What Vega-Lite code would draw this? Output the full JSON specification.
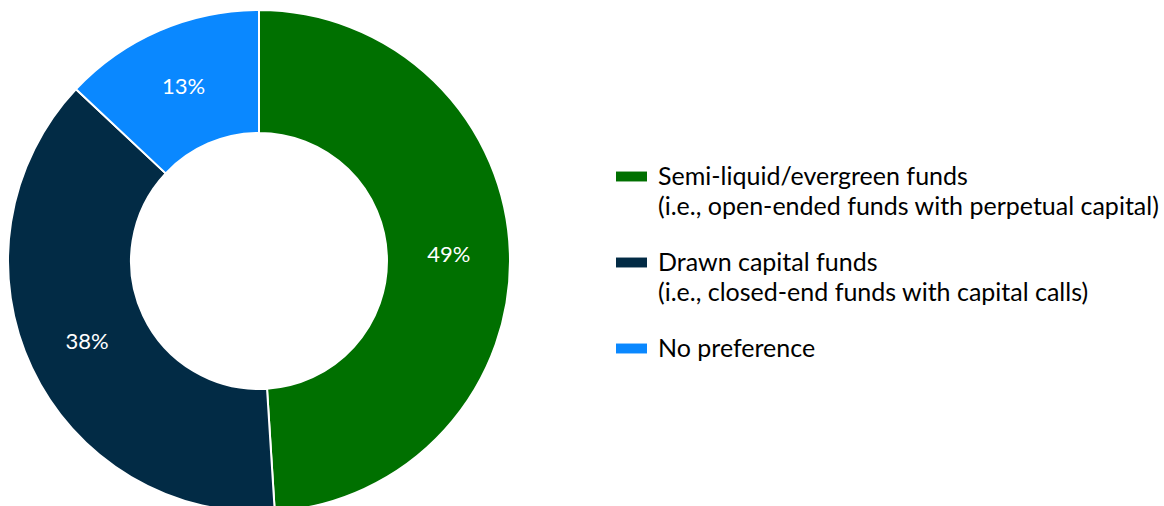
{
  "$schema": "https://vega.github.io/schema/vega-lite/v6.json",
  "width": 518,
  "height": 506,
  "padding": {"left": 0, "top": 6, "right": 0, "bottom": 0},
  "background": "white",
  "config": {"view": {"stroke": null}, "style": {"guide-label": {"lineHeight": 30}}},
  "data": {
    "values": [
      {"category": "Semi-liquid/evergreen funds|(i.e., open-ended funds with perpetual capital)", "value": 49, "order": 1, "label": "49%"},
      {"category": "Drawn capital funds|(i.e., closed-end funds with capital calls)", "value": 38, "order": 2, "label": "38%"},
      {"category": "No preference", "value": 13, "order": 3, "label": "13%"}
    ]
  },
  "encoding": {
    "theta": {"field": "value", "type": "quantitative", "stack": true},
    "order": {"field": "order", "type": "quantitative"}
  },
  "layer": [
    {
      "mark": {"type": "arc", "outerRadius": 251, "innerRadius": 128, "stroke": "white", "strokeWidth": 2},
      "encoding": {
        "color": {
          "field": "category",
          "type": "nominal",
          "sort": {"field": "order"},
          "scale": {
            "domain": [
              "Semi-liquid/evergreen funds|(i.e., open-ended funds with perpetual capital)",
              "Drawn capital funds|(i.e., closed-end funds with capital calls)",
              "No preference"
            ],
            "range": ["#007000", "#022B45", "#0A88FF"]
          },
          "legend": {
            "title": null,
            "orient": "none",
            "legendX": 616,
            "legendY": 153,
            "padding": 0,
            "symbolType": "M-1,-0.32H1V0.32H-1Z",
            "symbolSize": 961,
            "symbolStrokeWidth": 0,
            "labelExpr": "split(datum.label, '|')",
            "labelFont": "Lato",
            "labelFontSize": 25,
            "labelColor": "#000000",
            "labelOffset": 11,
            "labelLimit": 700,
            "rowPadding": 27,
            "encode": {"labels": {"enter": {"lineHeight": {"value": 30}}, "update": {"lineHeight": {"value": 30}}}}
          }
        }
      }
    },
    {
      "mark": {"type": "text", "radius": 190, "color": "white", "font": "Lato", "fontSize": 22},
      "encoding": {
        "text": {"field": "label", "type": "nominal"}
      }
    }
  ]
}
